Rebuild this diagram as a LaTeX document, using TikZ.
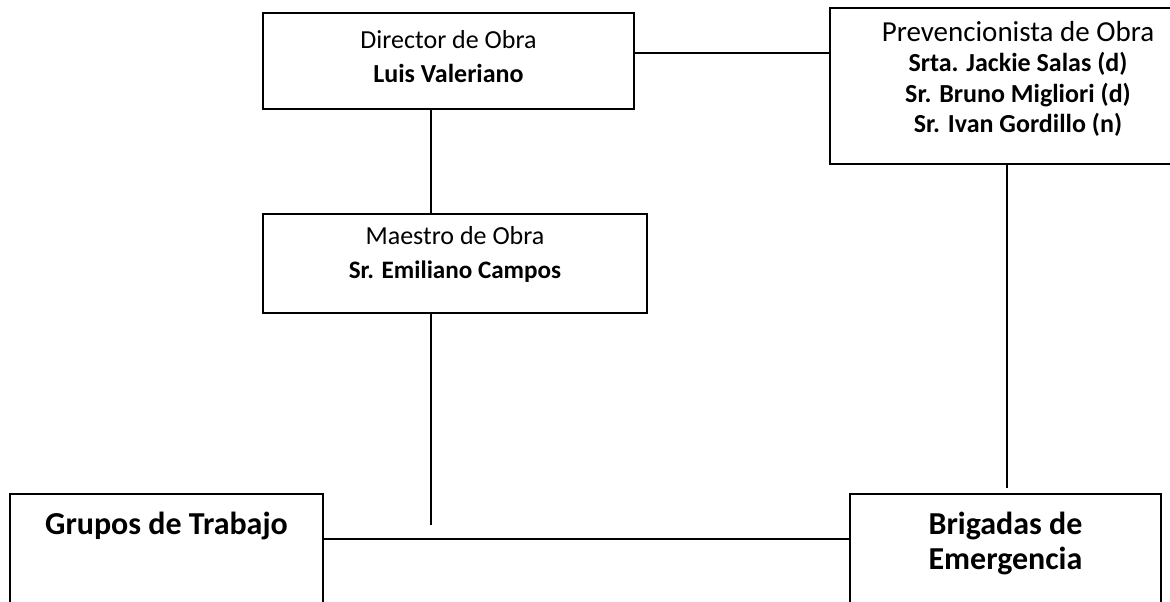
\documentclass[tikz,border=0pt]{standalone}
\usepackage{fontspec}
\setmainfont{Carlito}
\begin{document}
\begin{tikzpicture}[
box/.style={draw, line width=1pt, anchor=north, align=center, inner sep=0pt},
small/.style={font=\fontsize{14.8}{19.4}\selectfont},
big/.style={font=\fontsize{18.2}{19.9}\selectfont\bfseries},
conn/.style={line width=1.1pt}
]
\useasboundingbox (0,0) rectangle (23.4,-12.04);
\clip (0,0) rectangle (23.4,-12.04);

\node[box, small, minimum width=7.42cm, text height=1.394cm, text depth=0.526cm] (dir) at (8.97,-0.24) {Director de Obra\\ \textbf{Luis Valeriano}};
\node[box, font=\fontsize{14.8}{17.4}\selectfont, minimum width=7.52cm, text height=2.5cm, text depth=0.62cm] (prev) at (20.36,-0.14) {{\fontsize{16.5}{17.4}\selectfont Prevencionista de Obra}\\ \textbf{Srta. Jackie Salas (d)}\\ \textbf{Sr. Bruno Migliori (d)}\\ \textbf{Sr. Ivan Gordillo (n)}};
\node[box, small, minimum width=7.68cm, text height=1.3cm, text depth=0.68cm] (mae) at (9.10,-4.26) {Maestro de Obra\\ {\fontsize{14.3}{19.4}\selectfont\bfseries Sr. Emiliano Campos}};
\node[box, big, minimum width=6.26cm, text height=0.82cm, text depth=2.5cm] (grupos) at (3.33,-9.86) {Grupos de Trabajo};
\node[box, big, minimum width=6.22cm, text height=1.52cm, text depth=2.0cm] (brig) at (20.11,-9.86) {Brigadas de\\ Emergencia};

\coordinate (topline) at (0,-1.054);
\coordinate (midcol) at (8.62,0);
\coordinate (rightcol) at (20.14,0);
\coordinate (maeend) at (8.62,-10.5);
\coordinate (prevend) at (20.14,-9.76);
\coordinate (baseline) at (0,-10.78);

\draw[conn] (dir.east |- topline) -- (prev.west |- topline);
\draw[conn] (midcol |- dir.south) -- (midcol |- mae.north);
\draw[conn] (midcol |- mae.south) -- (maeend);
\draw[conn] (rightcol |- prev.south) -- (prevend);
\draw[conn] (grupos.east |- baseline) -- (brig.west |- baseline);
\end{tikzpicture}
\end{document}
